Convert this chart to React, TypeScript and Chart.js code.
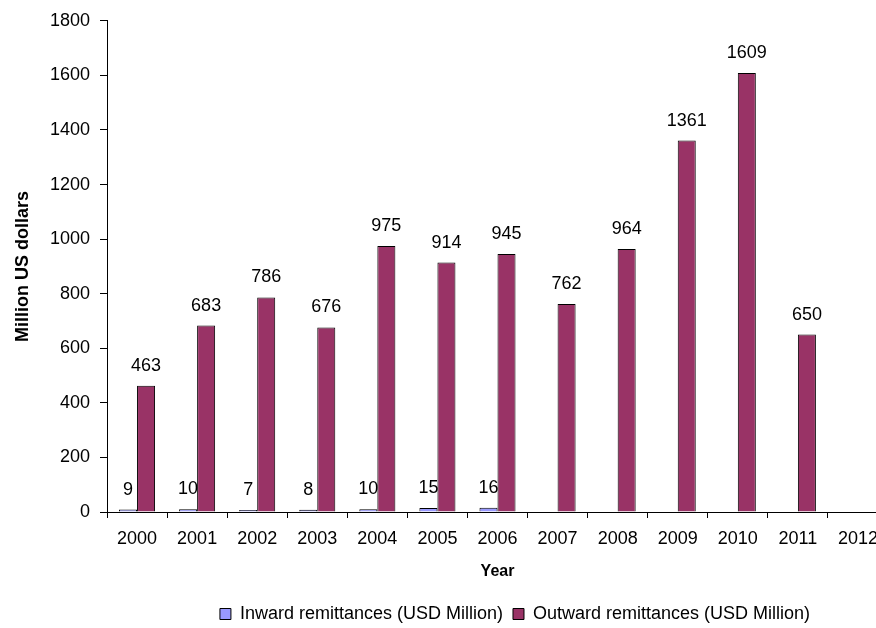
import React, { useEffect, useRef } from "react";
import { Chart, registerables } from "chart.js";

Chart.register(...registerables);

const years = ["2000", "2001", "2002", "2003", "2004", "2005", "2006", "2007", "2008", "2009", "2010", "2011", "2012"];
const inward: (number | null)[] = [9, 10, 7, 8, 10, 15, 16, null, null, null, null, null, null];
const outward: (number | null)[] = [463, 683, 786, 676, 975, 914, 945, 762, 964, 1361, 1609, 650, null];
const yTicks = [0, 200, 400, 600, 800, 1000, 1200, 1400, 1600, 1800];

const FONT = "'Liberation Sans', Arial, sans-serif";

const valueLabels = {
  id: "valueLabels",
  afterDatasetsDraw(chart: any) {
    const ctx = chart.ctx;
    ctx.save();
    ctx.font = `18px ${FONT}`;
    ctx.fillStyle = "#000";
    ctx.textAlign = "center";
    ctx.textBaseline = "middle";
    chart.data.datasets.forEach((ds: any, i: number) => {
      const meta = chart.getDatasetMeta(i);
      meta.data.forEach((el: any, j: number) => {
        const v = ds.data[j];
        if (v === null || v === undefined) return;
        ctx.fillText(String(v), el.x, el.y - 20);
      });
    });
    ctx.restore();
  },
};

const legendShift = {
  id: "legendShift",
  afterLayout(chart: any) {
    const lg = chart.legend;
    if (!lg) return;
    lg.left = 142;
    lg.right = chart.chartArea.right;
    lg.width = lg.right - lg.left;
    lg.top += 5;
    lg.bottom += 5;
    if (lg.adjustHitBoxes) lg.adjustHitBoxes();
  },
};

export default function App() {
  const ref = useRef<HTMLCanvasElement>(null);
  useEffect(() => {
    if (!ref.current) return;
    const chart = new Chart(ref.current, {
      type: "bar",
      data: {
        labels: years,
        datasets: [
          {
            label: "Inward remittances (USD Million)",
            data: inward,
            backgroundColor: "#9999FF",
            borderColor: "#000",
            borderWidth: 1,
            categoryPercentage: 0.6,
            barPercentage: 1,
          },
          {
            label: "Outward remittances (USD Million)",
            data: outward,
            backgroundColor: "#993366",
            borderColor: "#000",
            borderWidth: 1,
            categoryPercentage: 0.6,
            barPercentage: 1,
          },
        ],
      },
      options: {
        animation: false,
        responsive: false,
        devicePixelRatio: 1,
        layout: { padding: { top: 20, right: 2, left: 0, bottom: 0 } },
        plugins: {
          tooltip: { enabled: false },
          legend: {
            position: "bottom",
            labels: {
              color: "#000",
              font: { family: FONT, size: 18 },
              boxWidth: 11,
              boxHeight: 11,
              padding: 10,
            },
          },
        },
        scales: {
          x: {
            grid: { display: true, drawOnChartArea: false, drawTicks: true, tickLength: 6, color: "#000", offset: true },
            border: { color: "#000", width: 1 },
            ticks: { color: "#000", font: { family: FONT, size: 18 }, padding: 10, maxRotation: 0, autoSkip: false },
            title: { display: true, text: "Year", color: "#000", font: { family: FONT, size: 16, weight: "bold" }, padding: { top: 0, bottom: 9 } },
            afterFit(scale: any) {
              scale.height = 78;
            },
          },
          y: {
            min: 0,
            max: 1800,
            afterBuildTicks(scale: any) {
              scale.ticks = yTicks.map((v) => ({ value: v }));
            },
            grid: { display: true, drawOnChartArea: false, drawTicks: true, tickLength: 7, color: "#000" },
            border: { color: "#000", width: 1 },
            ticks: {
              color: "#000",
              font: { family: FONT, size: 18 },
              padding: 10,
              callback: (v: any) => String(v),
            },
            title: { display: true, text: "Million US dollars", color: "#000", font: { family: FONT, size: 18, weight: "bold" }, padding: { top: 12, bottom: 0 } },
            afterFit(scale: any) {
              scale.width = 107;
            },
          },
        },
      },
      plugins: [valueLabels, legendShift],
    });
    return () => chart.destroy();
  }, []);
  return (
    <div style={{ position: "fixed", left: 0, top: 0, width: 876, height: 628, overflow: "hidden", background: "#fff" }}>
      <canvas ref={ref} width={890} height={628} style={{ display: "block" }} />
    </div>
  );
}
